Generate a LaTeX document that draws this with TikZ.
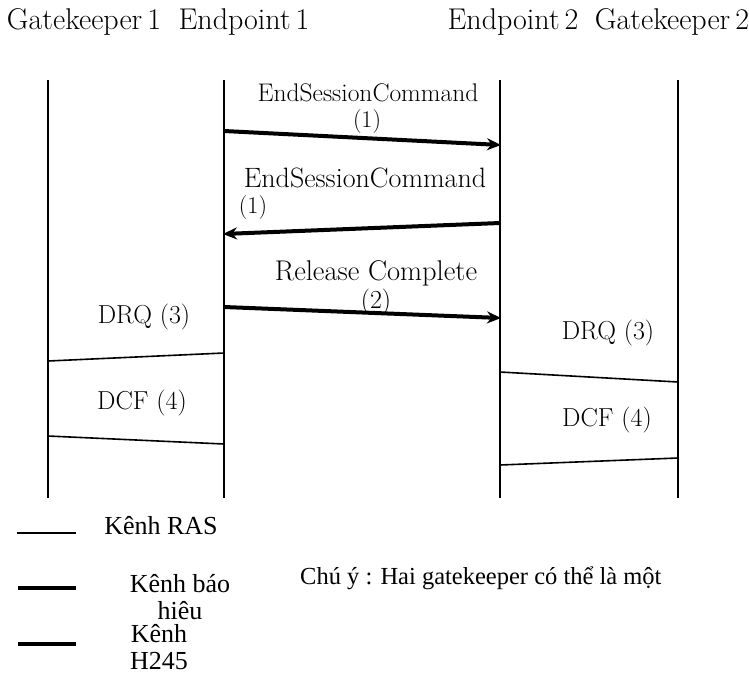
\documentclass[tikz,border=0pt]{standalone}
\usepackage{fontspec}
\newfontfamily\legfont{Liberation Serif}
\usetikzlibrary{arrows.meta}
\begin{document}
\begin{tikzpicture}[x=1pt,y=-1pt,
  life/.style={line width=2.2pt},
  sig/.style={line width=4pt,-{Stealth[length=14pt,width=12pt]}},
  ras/.style={line width=1.6pt},
  legthick/.style={line width=4pt},
  hdr/.style={font=\fontsize{30}{34}\selectfont, inner sep=0pt},
  lbl/.style={font=\fontsize{26}{30}\selectfont, inner sep=0pt},
  leg/.style={font=\legfont\fontsize{26}{27}\selectfont, inner sep=0pt, align=center},
  note/.style={font=\legfont\fontsize{24.5}{27}\selectfont, inner sep=0pt}]
\useasboundingbox (0,0) rectangle (749,675);
% headers
\node[hdr] (gk1) at (84,22) {Gatekeeper\,1};
\node[hdr] (ep1) at (244,22) {Endpoint\,1};
\node[hdr] (ep2) at (513,22) {Endpoint\,2};
\node[hdr] (gk2) at (672,22) {Gatekeeper\,2};
% lifelines
\coordinate (l1t) at (48,80);  \coordinate (l1b) at (48,498);
\coordinate (l2t) at (224,80); \coordinate (l2b) at (224,498);
\coordinate (l3t) at (500,80); \coordinate (l3b) at (500,498);
\coordinate (l4t) at (678,80); \coordinate (l4b) at (678,498);
\draw[life] (l1t) -- (l1b);
\draw[life] (l2t) -- (l2b);
\draw[life] (l3t) -- (l3b);
\draw[life] (l4t) -- (l4b);
% message 1
\coordinate (m1s) at (224,131); \coordinate (m1e) at (501,145);
\draw[sig] (m1s) -- (m1e);
\node[lbl, font=\fontsize{25.5}{29}\selectfont] (t1) at (368,93) {EndSessionCommand};
\node[lbl, font=\fontsize{24}{27}\selectfont] (n1) at (367,122) {(1)};
% message 2
\coordinate (m2s) at (500,223); \coordinate (m2e) at (223,234);
\draw[sig] (m2s) -- (m2e);
\node[lbl, font=\fontsize{28}{32}\selectfont] (t2) at (365,178) {EndSessionCommand};
\node[lbl, font=\fontsize{24}{27}\selectfont] (n2) at (253,208) {(1)};
% message 3
\coordinate (m3s) at (224,307); \coordinate (m3e) at (501,318);
\draw[sig] (m3s) -- (m3e);
\node[lbl, font=\fontsize{28.5}{32}\selectfont] (t3) at (376,273) {Release Complete};
\node[lbl, font=\fontsize{26}{29}\selectfont] (n3) at (376,302) {(2)};
% RAS left
\coordinate (r1a) at (48,361); \coordinate (r1b) at (224,353);
\coordinate (r2a) at (48,436); \coordinate (r2b) at (224,444);
\draw[ras] (r1a) -- (r1b);
\draw[ras] (r2a) -- (r2b);
\node[lbl] (drq1) at (144,317) {DRQ (3)};
\node[lbl] (dcf1) at (142,403) {DCF (4)};
% RAS right
\coordinate (r3a) at (500,372); \coordinate (r3b) at (678,382);
\coordinate (r4a) at (500,465); \coordinate (r4b) at (678,458);
\draw[ras] (r3a) -- (r3b);
\draw[ras] (r4a) -- (r4b);
\node[lbl] (drq2) at (608,333) {DRQ (3)};
\node[lbl] (dcf2) at (607,420) {DCF (4)};
% legend
\coordinate (g1a) at (17,533); \coordinate (g1b) at (76,533);
\draw[ras] (g1a) -- (g1b);
\node[leg] (k1) at (161,526) {Kênh RAS};
\coordinate (g2a) at (18,588); \coordinate (g2b) at (76,588);
\draw[legthick] (g2a) -- (g2b);
\node[leg] (k2) at (180,597) {Kênh báo\\hiêu};
\coordinate (g3a) at (18,644); \coordinate (g3b) at (76,644);
\draw[legthick] (g3a) -- (g3b);
\node[leg] (k3) at (159,647) {Kênh\\H245};
\node[note, anchor=west] (nt) at (300,578) {Chú ý : Hai gatekeeper có thể là một};
\end{tikzpicture}
\end{document}
